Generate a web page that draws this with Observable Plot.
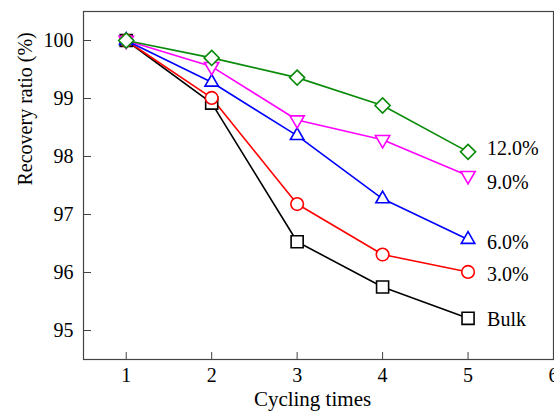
<!DOCTYPE html>
<html>
<head>
<meta charset="utf-8">
<script src="https://cdn.jsdelivr.net/npm/d3@7"></script>
<script src="https://cdn.jsdelivr.net/npm/@observablehq/plot@0.6"></script>
<style>
  html, body { margin: 0; padding: 0; background: #fff; }
  svg { display: block; }
</style>
</head>
<body>
<div id="chart"></div>
<script>
const cycles = [1, 2, 3, 4, 5];
const seriesNames = ["Bulk", "3.0%", "6.0%", "9.0%", "12.0%"];
const bulk   = [100, 98.92, 96.53, 95.75, 95.21];
const pct3   = [100, 99.01, 97.18, 96.31, 96.01];
const pct6   = [100, 99.28, 98.36, 97.27, 96.57];
const pct9   = [100, 99.55, 98.63, 98.29, 97.67];
const pct12  = [100, 99.70, 99.36, 98.88, 98.08];
const xTicks = [1, 2, 3, 4, 5, 6];
const yTicks = [95, 96, 97, 98, 99, 100];

const values = [bulk, pct3, pct6, pct9, pct12];
const colors = ["#000000", "#ff0000", "#0000ff", "#ff00ff", "#0a8a0a"];
const symbols = ["square", "circle", "triangle", "triangle", "diamond2"];
const rotations = [0, 0, 0, 180, 0];
const radii = [6.8, 6.3, 5.0, 5.3, 6.8];
const labelDy = [1, 3, 3, 7, -3];

const font = "Liberation Serif, Times New Roman, serif";

const marks = [
  Plot.frame({stroke: "#444", strokeWidth: 1.2}),
  Plot.axisX(xTicks, {tickSize: -7, text: null, stroke: "#444", label: null}),
  Plot.axisX(xTicks, {tickSize: 0, tickPadding: 8, fontSize: 20, fill: "#000", label: null, tickFormat: "d"}),
  Plot.axisY(yTicks, {tickSize: -8, text: null, stroke: "#444", label: null}),
  Plot.axisY(yTicks, {tickSize: 0, tickPadding: 10, fontSize: 20, fill: "#000", label: null, tickFormat: "d"})
];

values.forEach((vals, i) => {
  const rows = cycles.map((c, j) => ({x: c, y: vals[j]}));
  marks.push(Plot.line(rows, {x: "x", y: "y", stroke: colors[i], strokeWidth: 1.6}));
});
values.forEach((vals, i) => {
  const rows = cycles.map((c, j) => ({x: c, y: vals[j]}));
  marks.push(Plot.dot(rows, {
    x: "x", y: "y", symbol: symbols[i], r: radii[i], rotate: rotations[i],
    stroke: colors[i], strokeWidth: 1.6, fill: "white"
  }));
  const last = rows[rows.length - 1];
  marks.push(Plot.text([last], {
    x: "x", y: "y", text: () => seriesNames[i], dx: 19, dy: labelDy[i],
    textAnchor: "start", fontSize: 20, fill: "#000"
  }));
});

marks.push(Plot.text(["Recovery ratio (%)"], {
  frameAnchor: "left", dx: -58, rotate: -90, fontSize: 20, fill: "#000"
}));
marks.push(Plot.text(["Cycling times"], {
  frameAnchor: "bottom", dy: 46, dx: -6, fontSize: 21, fill: "#000"
}));

const chart = Plot.plot({
  width: 554,
  height: 415,
  marginLeft: 83,
  marginRight: 1,
  marginTop: 11,
  marginBottom: 56,
  style: {fontFamily: font, background: "#fff", overflow: "hidden"},
  x: {domain: [0.5, 6], axis: null},
  y: {domain: [94.5, 100.5], axis: null},
  marks
});
document.getElementById("chart").appendChild(chart);
</script>
</body>
</html>
